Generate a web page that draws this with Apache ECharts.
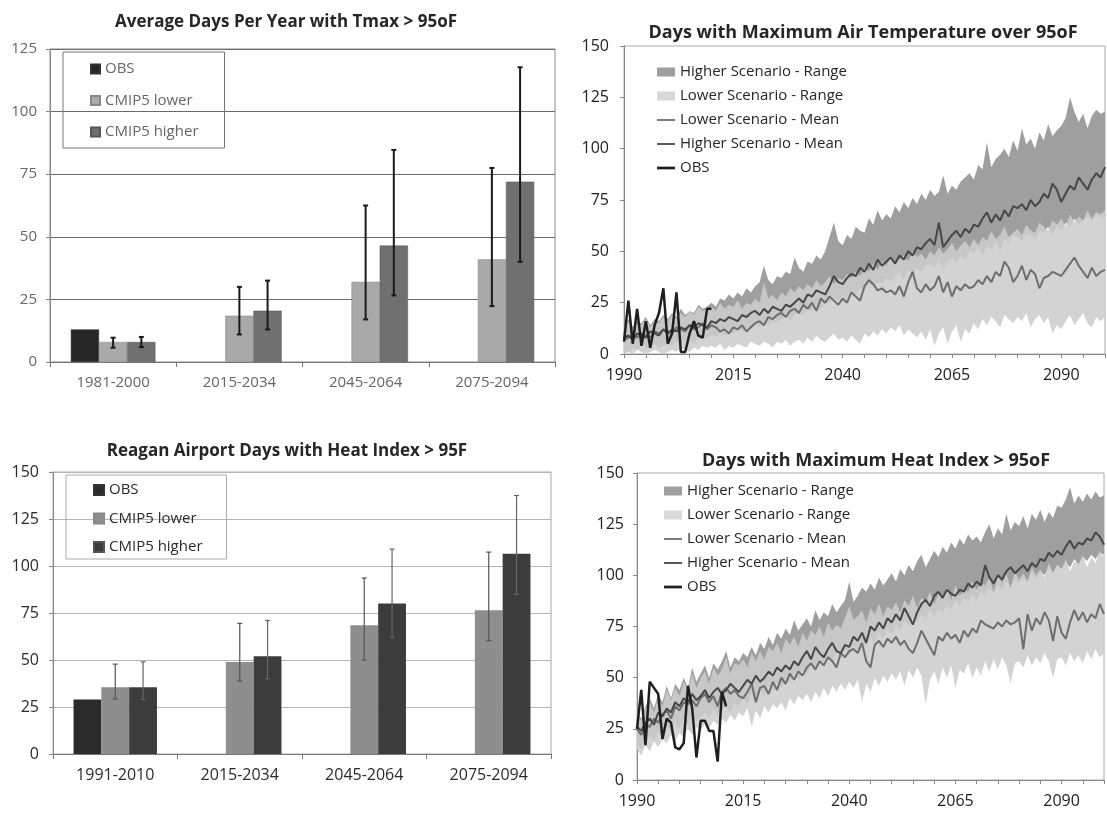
<!DOCTYPE html>
<html>
<head>
<meta charset="UTF-8">
<title>Days over 95F</title>
<script src="https://cdn.jsdelivr.net/npm/echarts@6/dist/echarts.min.js"></script>
<style>
body{margin:0;padding:0;background:#fff;}
#main{width:1107px;height:817px;}
</style>
</head>
<body>
<div id="main"></div>
<script>
// ---- top left: average days Tmax > 95F (bars + ranges)
var periods1 = ['1981-2000', '2015-2034', '2045-2064', '2075-2094'];
var obs1 = [13, null, null, null];
var lower1 = [8, 18.5, 32, 41];
var higher1 = [8, 20.5, 46.5, 72];
var lower1Err = [[5.7, 9.7], [11, 30], [17, 62.5], [22.3, 77.5]];
var higher1Err = [[6, 10], [13, 32.5], [26.6, 84.7], [40, 117.7]];

// ---- bottom left: Reagan airport heat index
var periods3 = ['1991-2010', '2015-2034', '2045-2064', '2075-2094'];
var obs3 = [29, null, null, null];
var lower3 = [35.5, 49, 68.5, 76.5];
var higher3 = [35.5, 52, 80, 106.5];
var lower3Err = [[29.3, 47.8], [38.8, 69.5], [50, 93.6], [60.3, 107.4]];
var higher3Err = [[29, 49], [40, 71], [62, 109], [85, 137.5]];

// ---- right panels, yearly 1990..2100
var years = [];
for (var y = 1990; y <= 2100; y++) years.push(String(y));

// top right: max air temperature over 95F
var tmaxHighUp = [
  14, 17, 13, 16, 15, 18, 14, 17, 16, 19,
  17, 20, 18, 22, 19, 21, 20, 24, 22, 23,
  25, 23, 27, 26, 29, 27, 30, 28, 32, 30,
  33, 35, 43, 36, 34, 38, 37, 40, 39, 47,
  42, 40, 45, 44, 48, 46, 50, 57, 64, 55,
  53, 58, 56, 62, 60, 59, 66, 63, 70, 65,
  68, 66, 72, 69, 74, 71, 76, 73, 78, 75,
  80, 77, 79, 87, 78, 82, 80, 84, 86, 88,
  85, 92, 90, 103, 91, 95, 97, 100, 96, 104,
  99, 110, 102, 105, 100, 108, 104, 112, 106, 109,
  111, 115, 125, 118, 113, 117, 110, 116, 119, 117,
  118];
var tmaxHighLo = [
  2, 1, 3, 2, 4, 3, 2, 5, 3, 4,
  5, 4, 6, 5, 7, 6, 5, 8, 7, 8,
  9, 8, 10, 9, 11, 10, 12, 11, 13, 12,
  14, 13, 15, 14, 16, 15, 17, 18, 16, 19,
  20, 19, 22, 21, 23, 22, 24, 25, 27, 26,
  28, 27, 30, 29, 32, 31, 34, 33, 35, 34,
  37, 35, 38, 40, 36, 41, 39, 42, 40, 43,
  44, 42, 46, 41, 45, 47, 44, 48, 46, 50,
  49, 52, 48, 53, 51, 55, 50, 56, 54, 58,
  57, 55, 59, 58, 56, 60, 59, 62, 58, 63,
  60, 64, 62, 66, 63, 65, 67, 64, 68, 66,
  67];
var tmaxLowUp = [
  13, 16, 12, 15, 14, 17, 13, 16, 15, 18,
  16, 19, 17, 20, 18, 21, 19, 23, 21, 22,
  23, 21, 25, 22, 24, 23, 26, 22, 25, 24,
  27, 25, 35, 27, 29, 26, 30, 28, 32, 30,
  33, 31, 34, 32, 36, 33, 35, 38, 34, 37,
  36, 39, 37, 40, 38, 42, 40, 44, 41, 45,
  43, 47, 44, 46, 48, 45, 50, 47, 49, 46,
  50, 48, 52, 49, 51, 54, 50, 53, 55, 52,
  56, 53, 57, 55, 60, 56, 58, 62, 57, 59,
  61, 58, 63, 60, 59, 64, 62, 60, 65, 63,
  66, 62, 68, 64, 67, 65, 70, 66, 69, 68,
  70];
var tmaxLowLo = [
  0, 1, 0, 2, 1, 0, 1, 2, 1, 0,
  1, 2, 1, 3, 2, 1, 3, 2, 4, 3,
  4, 3, 5, 2, 4, 3, 5, 4, 3, 6,
  5, 4, 6, 5, 3, 6, 5, 7, 4, 6,
  7, 5, 8, 6, 9, 7, 6, 8, 10, 7,
  8, 6, 9, 7, 5, 10, 8, 11, 9, 12,
  10, 13, 11, 14, 9, 12, 10, 8, 11, 7,
  12, 4, 10, 13, 5, 11, 14, 6, 12, 10,
  15, 12, 17, 14, 18, 16, 13, 19, 17, 15,
  18, 16, 20, 13, 17, 19, 15, 18, 10, 14,
  12, 16, 19, 14, 17, 20, 15, 13, 18, 16,
  18];
var tmaxHighMean = [
  8, 9, 7, 10, 9, 8, 11, 10, 9, 12,
  10, 12, 11, 13, 12, 14, 13, 15, 14, 13,
  16, 15, 17, 16, 18, 17, 16, 19, 18, 20,
  21, 19, 22, 20, 23, 22, 21, 24, 23, 25,
  27, 25, 29, 28, 31, 30, 29, 33, 38, 35,
  34, 37, 39, 38, 42, 40, 44, 41, 46, 43,
  45, 47, 44, 48, 46, 50, 48, 52, 51, 54,
  56, 53, 64, 52, 55, 58, 60, 57, 61, 59,
  63, 62, 66, 69, 64, 68, 65, 70, 67, 72,
  71, 73, 70, 75, 72, 74, 78, 76, 83, 80,
  74, 78, 82, 80, 86, 83, 80, 85, 88, 86,
  91];
var tmaxLowMean = [
  7, 8, 9, 8, 10, 9, 8, 11, 10, 12,
  11, 10, 13, 12, 11, 14, 12, 13, 15, 12,
  14, 13, 11, 12, 10, 13, 12, 14, 11, 13,
  15, 16, 14, 18, 17, 19, 20, 18, 21, 22,
  20, 24, 22, 25, 21, 27, 25, 28, 26, 24,
  27, 25, 30, 28, 26, 33, 36, 34, 31, 32,
  30, 31, 29, 33, 28, 35, 40, 32, 30, 34,
  31, 33, 38, 30, 35, 28, 33, 31, 34, 32,
  33, 36, 34, 38, 35, 40, 38, 45, 42, 35,
  38, 43, 36, 41, 39, 32, 37, 38, 40, 39,
  38, 41, 44, 47, 43, 40, 37, 42, 38, 40,
  41];
var tmaxObs = [6, 26, 5, 22, 4, 16, 3, 14, 20, 32, 5, 10, 30, 1, 1, 10, 16, 9, 8, 22, 22];

// bottom right: max heat index over 95F
var hiHighUp = [
  33, 30, 36, 40, 35, 42, 38, 46, 40, 47,
  44, 50, 45, 55, 48, 52, 56, 50, 57, 54,
  58, 63, 55, 60, 58, 62, 60, 65, 61, 67,
  64, 70, 66, 72, 69, 74, 71, 78, 73, 76,
  79, 75, 83, 78, 82, 80, 86, 82, 85, 88,
  97, 87, 90, 94, 92, 96, 93, 99, 95, 98,
  101, 97, 103, 100, 105, 102, 107, 110, 104, 108,
  112, 109, 114, 111, 116, 113, 118, 115, 120, 117,
  119, 116, 121, 125, 118, 123, 120, 130, 122, 126,
  124, 129, 123, 130, 127, 132, 126, 131, 128, 134,
  133, 137, 143, 135, 139, 136, 140, 137, 141, 138,
  139];
var hiHighLo = [
  18, 15, 20, 22, 19, 24, 21, 26, 23, 28,
  25, 30, 27, 32, 29, 31, 33, 30, 35, 32,
  34, 36, 33, 38, 35, 40, 37, 42, 39, 44,
  41, 46, 43, 48, 45, 50, 47, 52, 49, 54,
  51, 56, 53, 58, 55, 60, 57, 62, 59, 64,
  61, 66, 63, 68, 65, 70, 67, 72, 69, 74,
  71, 76, 73, 78, 75, 79, 77, 81, 78, 83,
  80, 84, 82, 86, 83, 88, 85, 89, 87, 91,
  88, 92, 90, 94, 91, 95, 93, 97, 94, 98,
  96, 99, 97, 101, 98, 102, 100, 104, 101, 105,
  103, 106, 104, 108, 105, 109, 107, 110, 108, 111,
  110];
var hiLowUp = [
  32, 29, 35, 38, 33, 40, 36, 44, 39, 45,
  41, 48, 44, 52, 45, 50, 53, 47, 55, 51,
  54, 60, 52, 57, 56, 59, 55, 62, 58, 63,
  59, 65, 63, 67, 62, 69, 66, 70, 65, 72,
  68, 73, 71, 75, 70, 77, 73, 76, 74, 79,
  85, 78, 80, 83, 77, 84, 81, 86, 80, 85,
  83, 87, 82, 88, 85, 90, 84, 89, 87, 92,
  86, 91, 89, 94, 88, 95, 90, 93, 92, 97,
  93, 96, 95, 99, 92, 100, 96, 101, 94, 102,
  98, 101, 97, 104, 100, 103, 99, 106, 101, 105,
  103, 108, 102, 107, 105, 110, 104, 109, 106, 112,
  108];
var hiLowLo = [
  15, 12, 17, 14, 19, 16, 20, 18, 22, 19,
  23, 21, 25, 22, 26, 24, 28, 25, 29, 27,
  30, 28, 32, 29, 33, 31, 35, 26, 34, 30,
  36, 33, 37, 35, 38, 34, 40, 37, 41, 39,
  42, 38, 43, 40, 45, 41, 46, 43, 47, 44,
  48, 45, 49, 38, 47, 43, 50, 46, 51, 48,
  52, 49, 53, 46, 54, 50, 55, 51, 37, 49,
  53, 47, 55, 50, 56, 45, 54, 52, 57, 50,
  55, 51, 58, 53, 59, 54, 60, 56, 47, 57,
  58, 55, 61, 56, 60, 57, 62, 58, 50, 59,
  60, 56, 62, 58, 61, 57, 63, 59, 64, 60,
  62];
var hiHighMean = [
  26, 24, 28, 30, 27, 33, 31, 35, 33, 38,
  36, 40, 38, 42, 39, 41, 44, 40, 43, 45,
  42, 44, 47, 45, 43, 46, 49, 47, 51, 48,
  50, 53, 51, 55, 53, 56, 54, 58, 56, 60,
  63, 59, 65, 62, 60, 64, 67, 63, 62, 66,
  65, 70, 68, 72, 67, 75, 73, 77, 74, 79,
  77, 81, 78, 84, 80, 76, 82, 86, 88, 85,
  90, 92, 89, 93, 91, 90, 93, 92, 96, 94,
  97, 95, 105, 99, 96, 100, 98, 102, 104, 101,
  103, 105, 102, 106, 104, 108, 107, 111, 109, 112,
  110, 114, 117, 113, 116, 115, 118, 117, 121, 119,
  115];
var hiLowMean = [
  25, 22, 27, 26, 30, 28, 32, 34, 30, 36,
  34, 38, 37, 39, 36, 40, 42, 38, 41, 36,
  43, 45, 42, 44, 41, 40, 43, 47, 38, 45,
  46, 42, 48, 44, 50, 47, 52, 49, 53, 51,
  55, 57, 54, 58, 56, 60, 58, 55, 62, 60,
  63, 64, 62, 67, 58, 55, 66, 68, 65, 69,
  67, 70, 66, 68, 64, 62, 67, 73, 69, 65,
  61, 70, 68, 72, 69, 71, 67, 73, 70, 74,
  72, 78, 76, 75, 74, 77, 75, 78, 76, 77,
  79, 64, 81, 73, 79, 76, 82, 78, 68, 80,
  72, 69, 77, 83, 78, 82, 77, 81, 79, 86,
  81];
var hiObs = [25, 44, 17, 48, 45, 42, 20, 30, 28, 16, 15, 18, 46, 35, 11, 29, 29, 24, 24, 9, 43, 36];

var FONT = 'Open Sans';
var C_HI_RANGE = '#9f9f9f', C_LO_RANGE = '#cdcdcd';
var C_LO_MEAN = '#6e6e6e', C_HI_MEAN = '#474747', C_OBS = '#1f1f1f';

var chart = echarts.init(document.getElementById('main'));

var GAP = 0.33;
function errBar(offset, color, lw, cap) {
  return function (params, api) {
    var i = api.value(0);
    var band = api.size([1, 0])[0];
    var bw = band * (1 - GAP) / 3;
    var lo = api.coord([i, api.value(1)]);
    var hi = api.coord([i, api.value(2)]);
    var x = lo[0] + offset * bw;
    var st = {stroke: color, lineWidth: lw};
    return {type: 'group', children: [
      {type: 'line', shape: {x1: x, y1: lo[1], x2: x, y2: hi[1]}, style: st},
      {type: 'line', shape: {x1: x - cap, y1: hi[1], x2: x + cap, y2: hi[1]}, style: st},
      {type: 'line', shape: {x1: x - cap, y1: lo[1], x2: x + cap, y2: lo[1]}, style: st}
    ]};
  };
}
function errData(arr) {
  return arr.map(function (e, i) { return [i, e[0], e[1]]; });
}

// band = transparent base + stacked difference filled
function band(name, lo, up, color, opacity, stackId, ax) {
  return [{
    name: stackId + 'base', type: 'line', xAxisIndex: ax, yAxisIndex: ax,
    stack: stackId, data: lo, symbol: 'none', lineStyle: {opacity: 0}, silent: true
  }, {
    name: name, type: 'line', xAxisIndex: ax, yAxisIndex: ax,
    stack: stackId, data: up.map(function (u, i) { return u - lo[i]; }),
    symbol: 'none', lineStyle: {width: 0, opacity: 0},
    itemStyle: {color: color},
    areaStyle: {color: color, opacity: opacity}
  }];
}
function meanLine(name, data, color, width, ax) {
  return {
    name: name, type: 'line', xAxisIndex: ax, yAxisIndex: ax, data: data,
    symbol: 'none', itemStyle: {color: color}, lineStyle: {color: color, width: width}
  };
}

function barAxisX(idx, cats, color, size) {
  return {
    gridIndex: idx, type: 'category', data: cats,
    axisLine: {lineStyle: {color: '#777'}},
    axisTick: {show: true, length: 5, lineStyle: {color: '#777'}},
    axisLabel: {color: color, fontSize: size, fontFamily: FONT, margin: 13}
  };
}
function yearAxisX(idx) {
  return {
    gridIndex: idx, type: 'category', data: years, boundaryGap: false,
    axisLine: {lineStyle: {color: '#888'}},
    axisTick: {show: true, length: 4, lineStyle: {color: '#888'},
      interval: function (i) { return i % 5 === 0; }},
    axisLabel: {color: '#222', fontSize: 16, fontFamily: FONT, margin: 13,
      interval: function (i) { return i % 25 === 0; }},
    splitLine: {show: false}
  };
}
function valAxisY(idx, max, labelColor, size, gridColor, margin) {
  return {
    gridIndex: idx, type: 'value', min: 0, max: max, interval: 25,
    axisLine: {show: true, lineStyle: {color: '#888'}},
    axisTick: {show: true, length: 4, lineStyle: {color: '#888'}},
    axisLabel: {color: labelColor, fontSize: size, fontFamily: FONT, margin: margin},
    splitLine: gridColor ? {show: true, lineStyle: {color: gridColor}} : {show: false}
  };
}
function titleAt(text, x, top, size) {
  return {
    text: text, left: x, top: top, textAlign: 'center',
    textStyle: {fontFamily: FONT, fontSize: size, fontWeight: 'bold', color: '#262626'}
  };
}

var lineIcon = 'path://M0,0H20V2H0Z';
var obsIcon = 'path://M0,0H20V3H0Z';

chart.setOption({
  animation: false,
  backgroundColor: '#fff',
  title: [
    titleAt('Average Days Per Year with Tmax > 95oF', 281, 9, 17),
    titleAt('Days with Maximum Air Temperature over 95oF', 858, 19, 18),
    titleAt('Reagan Airport Days with Heat Index > 95F', 282, 438, 17),
    titleAt('Days with Maximum Heat Index > 95oF', 871, 447, 18)
  ],
  grid: [
    {left: 50, top: 49, width: 505, height: 313, show: true, borderColor: '#888', borderWidth: 1},
    {left: 624, top: 46, width: 481, height: 308, show: true, borderColor: '#aaa', borderWidth: 1},
    {left: 53, top: 472, width: 498, height: 282, show: true, borderColor: '#aaa', borderWidth: 1},
    {left: 637, top: 473, width: 467, height: 307, show: true, borderColor: '#aaa', borderWidth: 1}
  ],
  xAxis: [
    barAxisX(0, periods1, '#666', 15),
    yearAxisX(1),
    barAxisX(2, periods3, '#2b2b2b', 16),
    yearAxisX(3)
  ],
  yAxis: [
    valAxisY(0, 125, '#666', 15, '#6a6a6a', 13),
    valAxisY(1, 150, '#222', 16, null, 15),
    valAxisY(2, 150, '#2b2b2b', 16, '#b5b5b5', 14),
    valAxisY(3, 150, '#222', 16, null, 13)
  ],
  legend: [{
    left: 63, top: 52, orient: 'vertical',
    padding: [9, 26, 8, 27], itemGap: 15.5, itemWidth: 9, itemHeight: 9,
    borderColor: '#777', borderWidth: 1,
    textStyle: {fontFamily: FONT, fontSize: 15, color: '#666', lineHeight: 16},
    data: [
      {name: 'OBS', icon: 'rect', itemStyle: {color: '#262626'}},
      {name: 'CMIP5 lower', icon: 'rect', itemStyle: {color: '#a9a9a9'}},
      {name: 'CMIP5 higher', icon: 'rect', itemStyle: {color: '#707070'}}
    ]
  }, {
    left: 657, top: 64, orient: 'vertical',
    padding: 0, itemGap: 8, itemWidth: 18, itemHeight: 9,
    textStyle: {fontFamily: FONT, fontSize: 15, color: '#262626', lineHeight: 16},
    data: [
      {name: 'Higher Scenario - Range', icon: 'rect', itemStyle: {color: C_HI_RANGE}},
      {name: 'Lower Scenario - Range', icon: 'rect', itemStyle: {color: '#d9d9d9'}},
      {name: 'Lower Scenario - Mean', icon: lineIcon, itemStyle: {color: C_LO_MEAN}},
      {name: 'Higher Scenario - Mean', icon: lineIcon, itemStyle: {color: C_HI_MEAN}},
      {name: 'OBS ', icon: obsIcon, itemStyle: {color: C_OBS}}
    ]
  }, {
    left: 66, top: 475, orient: 'vertical',
    padding: [7, 24, 4, 27], itemGap: 12.5, itemWidth: 10, itemHeight: 10,
    borderColor: '#aaa', borderWidth: 1,
    textStyle: {fontFamily: FONT, fontSize: 15, color: '#2b2b2b', lineHeight: 16},
    data: [
      {name: 'OBS', icon: 'rect', itemStyle: {color: '#2b2b2b'}},
      {name: 'CMIP5 lower', icon: 'rect', itemStyle: {color: '#8e8e8e'}},
      {name: 'CMIP5 higher', icon: 'rect', itemStyle: {color: '#3c3c3c'}}
    ]
  }, {
    left: 664, top: 483, orient: 'vertical',
    padding: 0, itemGap: 8, itemWidth: 18, itemHeight: 9,
    textStyle: {fontFamily: FONT, fontSize: 15, color: '#262626', lineHeight: 16},
    data: [
      {name: 'Higher Scenario - Range', icon: 'rect', itemStyle: {color: C_HI_RANGE}},
      {name: 'Lower Scenario - Range', icon: 'rect', itemStyle: {color: '#d9d9d9'}},
      {name: 'Lower Scenario - Mean', icon: lineIcon, itemStyle: {color: C_LO_MEAN}},
      {name: 'Higher Scenario - Mean', icon: lineIcon, itemStyle: {color: C_HI_MEAN}},
      {name: 'OBS ', icon: obsIcon, itemStyle: {color: C_OBS}}
    ]
  }],
  series: [].concat(
    // top left bars
    [{
      name: 'OBS', type: 'bar', xAxisIndex: 0, yAxisIndex: 0, data: obs1,
      barGap: 0, barCategoryGap: '33%', itemStyle: {color: '#262626', borderColor: '#333', borderWidth: 0.5}
    }, {
      name: 'CMIP5 lower', type: 'bar', xAxisIndex: 0, yAxisIndex: 0, data: lower1,
      itemStyle: {color: '#a9a9a9', borderColor: '#888', borderWidth: 0.5}
    }, {
      name: 'CMIP5 higher', type: 'bar', xAxisIndex: 0, yAxisIndex: 0, data: higher1,
      itemStyle: {color: '#707070', borderColor: '#555', borderWidth: 0.5}
    }, {
      type: 'custom', xAxisIndex: 0, yAxisIndex: 0, data: errData(lower1Err),
      renderItem: errBar(0, '#1a1a1a', 2, 2.5), z: 5, silent: true
    }, {
      type: 'custom', xAxisIndex: 0, yAxisIndex: 0, data: errData(higher1Err),
      renderItem: errBar(1, '#1a1a1a', 2, 2.5), z: 5, silent: true
    }],
    // bottom left bars
    [{
      name: 'OBS', type: 'bar', xAxisIndex: 2, yAxisIndex: 2, data: obs3,
      barGap: 0, barCategoryGap: '33%', itemStyle: {color: '#2b2b2b'}
    }, {
      name: 'CMIP5 lower', type: 'bar', xAxisIndex: 2, yAxisIndex: 2, data: lower3,
      itemStyle: {color: '#8e8e8e'}
    }, {
      name: 'CMIP5 higher', type: 'bar', xAxisIndex: 2, yAxisIndex: 2, data: higher3,
      itemStyle: {color: '#3c3c3c'}
    }, {
      type: 'custom', xAxisIndex: 2, yAxisIndex: 2, data: errData(lower3Err),
      renderItem: errBar(0, '#555', 1.2, 2.5), z: 5, silent: true
    }, {
      type: 'custom', xAxisIndex: 2, yAxisIndex: 2, data: errData(higher3Err),
      renderItem: errBar(1, '#666', 1.2, 2.5), z: 5, silent: true
    }],
    // top right
    band('Higher Scenario - Range', tmaxHighLo, tmaxHighUp, C_HI_RANGE, 1, 'h1', 1),
    band('Lower Scenario - Range', tmaxLowLo, tmaxLowUp, C_LO_RANGE, 0.88, 'l1', 1),
    [meanLine('Lower Scenario - Mean', tmaxLowMean, C_LO_MEAN, 2, 1),
     meanLine('Higher Scenario - Mean', tmaxHighMean, C_HI_MEAN, 2, 1),
     meanLine('OBS ', tmaxObs, C_OBS, 2.5, 1)],
    // bottom right
    band('Higher Scenario - Range', hiHighLo, hiHighUp, C_HI_RANGE, 1, 'h3', 3),
    band('Lower Scenario - Range', hiLowLo, hiLowUp, C_LO_RANGE, 0.88, 'l3', 3),
    [meanLine('Lower Scenario - Mean', hiLowMean, C_LO_MEAN, 2, 3),
     meanLine('Higher Scenario - Mean', hiHighMean, C_HI_MEAN, 2, 3),
     meanLine('OBS ', hiObs, C_OBS, 2.5, 3)]
  )
});
</script>
</body>
</html>
